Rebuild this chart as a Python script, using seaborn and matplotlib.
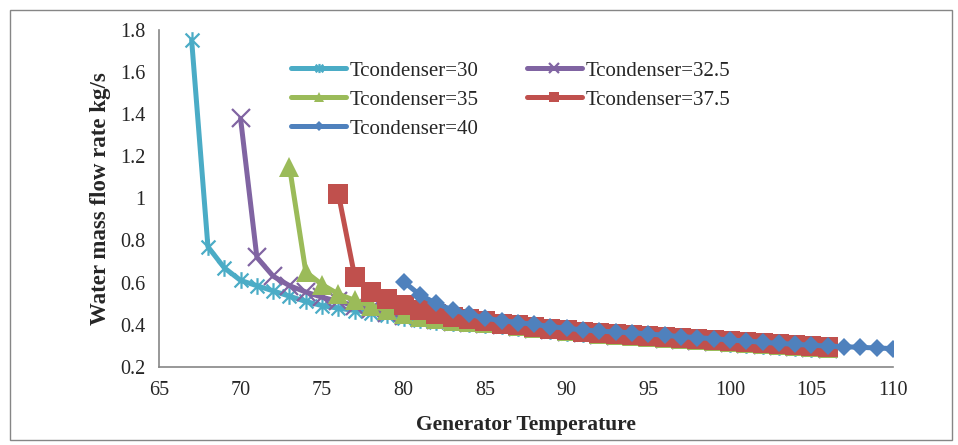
import matplotlib
matplotlib.use("Agg")
import matplotlib.pyplot as plt
from matplotlib.patches import Rectangle
from matplotlib.path import Path
from matplotlib.ticker import FormatStrFormatter
import seaborn as sns

sns.set_style("white")
plt.rcParams["font.family"] = ["Liberation Serif", "DejaVu Serif"]

# generator temperature ranges (1 degree steps) per condenser temperature
t30 = list(range(67, 107))
t325 = list(range(70, 107))
t35 = list(range(73, 107))
t375 = list(range(76, 107))
t40 = list(range(80, 111))

# water mass flow rate, kg/s
m30 = [1.753, 0.77, 0.67, 0.61, 0.585, 0.56, 0.535, 0.51, 0.49, 0.478,
       0.467, 0.456, 0.444, 0.432, 0.422, 0.414, 0.407, 0.401, 0.397, 0.393,
       0.385, 0.377, 0.369, 0.362, 0.355, 0.349, 0.344, 0.340, 0.335, 0.330,
       0.325, 0.320, 0.315, 0.310, 0.305, 0.300, 0.295, 0.290, 0.286, 0.282]
m325 = [1.38, 0.72, 0.63, 0.585, 0.555, 0.53, 0.51, 0.49, 0.472, 0.456,
        0.442, 0.43, 0.42, 0.412, 0.406, 0.401, 0.397, 0.389, 0.381, 0.373,
        0.366, 0.359, 0.353, 0.348, 0.344, 0.339, 0.334, 0.329, 0.324, 0.319,
        0.314, 0.309, 0.304, 0.299, 0.294, 0.290, 0.286]
m35 = [1.15, 0.65, 0.59, 0.545, 0.515, 0.49, 0.468, 0.45, 0.438, 0.427,
       0.419, 0.413, 0.407, 0.401, 0.393, 0.385, 0.377, 0.370, 0.363, 0.357,
       0.352, 0.348, 0.343, 0.338, 0.333, 0.328, 0.323, 0.318, 0.313, 0.308,
       0.303, 0.298, 0.294, 0.290]
m375 = [1.02, 0.628, 0.556, 0.523, 0.493, 0.470, 0.452, 0.438, 0.426, 0.415,
        0.405, 0.397, 0.389, 0.381, 0.374, 0.367, 0.361, 0.356, 0.352, 0.347,
        0.342, 0.337, 0.332, 0.327, 0.322, 0.317, 0.312, 0.307, 0.302, 0.298,
        0.294]
m40 = [0.604, 0.541, 0.501, 0.469, 0.450, 0.430, 0.419, 0.410, 0.401, 0.391,
       0.382, 0.375, 0.369, 0.365, 0.361, 0.356, 0.349, 0.343, 0.338, 0.333,
       0.327, 0.322, 0.316, 0.311, 0.306, 0.302, 0.298, 0.295, 0.292, 0.289,
       0.286]

labels = ["Tcondenser=30", "Tcondenser=32.5", "Tcondenser=35",
          "Tcondenser=37.5", "Tcondenser=40"]
colors = ["#4BACC6", "#8064A2", "#9BBB59", "#C0504D", "#4F81BD"]

# excel style asterisk: an X plus a vertical bar
star = Path([(-1, -1), (1, 1), (-1, 1), (1, -1), (0, -1.2), (0, 1.2)],
            [Path.MOVETO, Path.LINETO, Path.MOVETO, Path.LINETO,
             Path.MOVETO, Path.LINETO])

series = [
    (t30, m30, star, 12, "none"),
    (t325, m325, "x", 13, None),
    (t35, m35, "^", 14, None),
    (t375, m375, "s", 14, None),
    (t40, m40, "D", 9, None),
]

fig = plt.figure(figsize=(9.58, 4.45), dpi=100)
ax = fig.add_axes([159 / 958, 1 - 366.7 / 445, (893 - 159) / 958, (366.7 - 30) / 445])

for (x, y, mk, ms, fc), lab, col in zip(series, labels, colors):
    sns.lineplot(x=x, y=y, ax=ax, color=col, linewidth=3.6, marker=mk,
                 markersize=ms, markeredgewidth=1.6 if fc == "none" or mk == "x" else 0,
                 markeredgecolor=col, markerfacecolor=col if fc is None else fc,
                 label=lab)

ax.set_xlim(65, 110)
ax.set_ylim(0.2, 1.8)
ax.set_xticks(range(65, 111, 5))
ax.set_yticks([0.2, 0.4, 0.6, 0.8, 1.0, 1.2, 1.4, 1.6, 1.8])
ax.yaxis.set_major_formatter(FormatStrFormatter("%g"))
ax.tick_params(axis="both", direction="out", length=6, width=1, color="#868686",
               labelsize=14.5, pad=4)
for side in ["top", "right"]:
    ax.spines[side].set_visible(False)
for side in ["left", "bottom"]:
    ax.spines[side].set_color("#868686")
    ax.spines[side].set_linewidth(1.2)

ax.set_xlabel("Generator Temperature", fontsize=15.5, fontweight="bold", labelpad=11)
ax.set_ylabel("Water mass flow rate kg/s", fontsize=16.5, fontweight="bold", labelpad=6)

# legend: column-first, so 30/35/40 in the first column
h, l = ax.get_legend_handles_labels()
order = [0, 2, 4, 1, 3]
ax.legend([h[i] for i in order], [l[i] for i in order], ncol=2, frameon=False,
          loc="upper left", bbox_to_anchor=(291 / 958, 1 - 61 / 445),
          bbox_transform=fig.transFigure, fontsize=15, markerscale=0.55,
          handlelength=2.64, handletextpad=0.19, columnspacing=2.3,
          labelspacing=0.45, borderpad=0, borderaxespad=0)

# outer chart border
fig.patches.append(Rectangle((10 / 958, 5 / 445), 942 / 958, 430 / 445,
                             transform=fig.transFigure, fill=False,
                             edgecolor="#868686", linewidth=1))

fig.savefig("out.png", dpi=100)
